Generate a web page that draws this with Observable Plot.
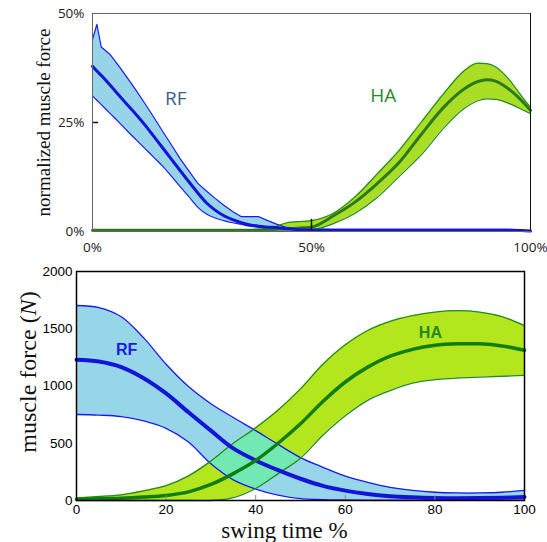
<!DOCTYPE html>
<html><head><meta charset="utf-8">
<script src="https://cdn.jsdelivr.net/npm/d3@7"></script>
<script src="https://cdn.jsdelivr.net/npm/@observablehq/plot@0.6"></script>
<style>
body{margin:0;background:#fff;}
#chart{width:547px;height:542px;}
#chart svg{display:block;}
</style></head><body><div id="chart"></div>
<script>
// ---------- Top panel: normalized muscle force (%) vs swing time (%) ----------
const topX = [0, 1, 2, 4, 6, 8, 10, 12, 14, 16, 18, 20, 22, 24, 26, 28, 30, 32, 34, 36, 38, 40, 42, 44, 46, 48, 50,
              55, 60, 65, 70, 75, 80, 85, 88, 90, 92, 95, 98, 100];
const rfTopUpper = [44, 47.5, 42.3, 40.6, 38.0, 35.2, 32.3, 29.3, 26.2, 23.0, 19.9, 16.7, 13.9, 11.1, 9.3, 7.6, 6.0, 4.6, 3.4, 3.4, 3.4, 2.5, 1.7, 1.0, 0.8, 0.7, 0.6,
                    0.5, 0.5, 0.5, 0.5, 0.5, 0.5, 0.5, 0.5, 0.5, 0.5, 0.5, 0.4, 0.1];
const rfTopMean  = [37.9, 36.8, 35.8, 33.6, 31.3, 29.0, 26.8, 24.4, 21.8, 19.2, 16.6, 14.0, 11.4, 8.9, 6.6, 4.9, 3.6, 2.7, 2.0, 1.5, 1.2, 1.0, 0.9, 0.7, 0.5, 0.4, 0.3,
                    0.3, 0.3, 0.3, 0.3, 0.3, 0.3, 0.3, 0.3, 0.3, 0.3, 0.3, 0.25, 0.1];
const rfTopLower = [31.1, 30.1, 29.1, 27.1, 25.1, 23.0, 21.0, 19.0, 17.0, 15.0, 12.7, 10.3, 8.0, 5.6, 4.0, 3.1, 2.5, 2.0, 1.6, 1.2, 1.0, 0.8, 0.6, 0.5, 0.4, 0.3, 0.2,
                    0.1, 0.1, 0.1, 0.1, 0.1, 0.1, 0.1, 0.1, 0.1, 0.1, 0.1, 0.1, 0];
const haTopUpper = [0.4, 0.4, 0.4, 0.4, 0.4, 0.4, 0.4, 0.4, 0.4, 0.4, 0.4, 0.4, 0.4, 0.4, 0.4, 0.4, 0.4, 0.4, 0.4, 0.4, 0.5, 0.7, 1.2, 1.9, 2.2, 2.3, 2.5,
                    4.2, 8.0, 13.2, 18.6, 25.0, 31.4, 37.0, 38.6, 38.5, 37.8, 35.0, 31.0, 28.5];
const haTopMean  = [0.3, 0.3, 0.3, 0.3, 0.3, 0.3, 0.3, 0.3, 0.3, 0.3, 0.3, 0.3, 0.3, 0.3, 0.3, 0.3, 0.3, 0.3, 0.3, 0.3, 0.35, 0.4, 0.5, 0.6, 0.7, 0.85, 1.0,
                    3.6, 6.8, 11.0, 15.8, 22.2, 28.3, 32.8, 34.4, 34.8, 34.5, 32.7, 30.0, 27.8];
const haTopLower = [0.1, 0.1, 0.1, 0.1, 0.1, 0.1, 0.1, 0.1, 0.1, 0.1, 0.1, 0.1, 0.1, 0.1, 0.1, 0.1, 0.1, 0.1, 0.1, 0.1, 0.1, 0.1, 0.1, 0.1, 0.1, 0.1, 0.3,
                    1.8, 4.2, 7.8, 12.6, 17.5, 23.5, 28.3, 30.0, 30.4, 30.3, 29.4, 28.0, 27.0];
const topXTicks = [0, 50, 100];
const topYTicks = [0, 25, 50];

// ---------- Bottom panel: muscle force (N) vs swing time % ----------
const botX   = [0, 5, 10, 15, 20, 25, 30, 35, 40, 45, 50, 55, 60, 65, 70, 75, 80, 85, 90, 95, 100];
const rfUp   = [1703, 1685, 1605, 1420, 1190, 995, 845, 725, 610, 490, 375, 290, 212, 158, 115, 88, 72, 66, 66, 72, 88];
const rfMean = [1229, 1214, 1165, 1068, 935, 770, 610, 455, 350, 265, 190, 128, 86, 57, 38, 28, 22, 20, 21, 24, 30];
const rfLo   = [751, 746, 733, 695, 630, 510, 320, 180, 100, 47, 16, 8, 5, 4, 4, 4, 4, 4, 4, 4, 4];
const haUp   = [23, 35, 50, 85, 130, 215, 345, 500, 635, 790, 975, 1190, 1360, 1485, 1565, 1615, 1645, 1658, 1645, 1605, 1528];
const haMean = [12, 15, 20, 30, 44, 75, 140, 235, 350, 500, 670, 865, 1035, 1165, 1260, 1320, 1355, 1368, 1368, 1350, 1312];
const haLo   = [0, 0, 0, 0, 0, 0, 0, 25, 105, 235, 370, 570, 740, 875, 960, 1025, 1055, 1070, 1078, 1085, 1092];
const botXTicks = [0, 20, 40, 60, 80, 100];
const botYTicks = [0, 500, 1000, 1500, 2000];

const topData = topX.map((x, i) => ({x, rfU: rfTopUpper[i], rfM: rfTopMean[i], rfL: rfTopLower[i],
                                      haU: haTopUpper[i], haM: haTopMean[i], haL: haTopLower[i]}));
const botData = botX.map((x, i) => ({x, rfU: rfUp[i], rfM: rfMean[i], rfL: rfLo[i],
                                      haU: haUp[i], haM: haMean[i], haL: haLo[i]}));

const curve = "monotone-x";
const smooth = "catmull-rom";
const blueEdge = "#1a1af0", blueMean = "#1414d8";
const greenEdge = "#228b22", greenMean = "#2a7a1c";

const topPlot = Plot.plot({
  width: 547, height: 258, marginLeft: 92, marginRight: 17, marginTop: 13, marginBottom: 27,
  x: {domain: [0, 100]}, y: {domain: [0, 50]},
  style: {fontFamily: "'Open Sans', sans-serif", fontSize: "13.5px", background: "white", overflow: "visible"},
  marks: [
    Plot.areaY(topData, {x: "x", y1: "rfL", y2: "rfU", fill: "#97d4e8", curve: "linear"}),
    Plot.areaY(topData, {x: "x", y1: "haL", y2: "haU", fill: "#a9de25", curve}),
    Plot.line(topData, {x: "x", y: "rfU", stroke: blueEdge, strokeWidth: 1.2, curve: "linear"}),
    Plot.line(topData, {x: "x", y: "rfL", stroke: blueEdge, strokeWidth: 1.2, curve}),
    Plot.line(topData, {x: "x", y: "haU", stroke: greenEdge, strokeWidth: 1.2, curve}),
    Plot.line(topData, {x: "x", y: "haL", stroke: greenEdge, strokeWidth: 1.2, curve}),
    Plot.line(topData, {x: "x", y: "haM", stroke: greenMean, strokeWidth: 3, curve}),
    Plot.line(topData, {x: "x", y: "rfM", stroke: blueMean, strokeWidth: 3, curve}),
    Plot.ruleX([50], {y1: 0.2, y2: 2.8, stroke: "#111", strokeWidth: 1.5}),
    Plot.ruleY([25], {x1: 0, x2: 1.4, stroke: "#111", strokeWidth: 1.5}),
    Plot.frame({stroke: "#666"}),
    Plot.ruleX([100], {stroke: "#111"}),
    Plot.axisX({ticks: topXTicks, tickFormat: d => d + "%", tickSize: 0, tickPadding: 11, label: null, fill: "#222"}),
    Plot.axisY({ticks: topYTicks, tickFormat: d => d + "%", tickSize: 0, tickPadding: 8, label: null, fill: "#222"}),
    Plot.text(["normalized muscle force"], {frameAnchor: "left", text: d => d, rotate: -90, dx: -49, textAnchor: "middle",
      fontFamily: "'Liberation Serif', 'Times New Roman', serif", fontSize: 19, fill: "#111"}),
    Plot.text([{x: 19, y: 30.5, t: "RF"}], {x: "x", y: "y", text: "t", fontSize: 19, fill: "#3a5d8f"}),
    Plot.text([{x: 66.4, y: 31.2, t: "HA"}], {x: "x", y: "y", text: "t", fontSize: 19, fill: "#2a8a2a"})
  ]
});

const botPlot = Plot.plot({
  width: 547, height: 284, marginLeft: 76, marginRight: 23, marginTop: 13, marginBottom: 42,
  x: {domain: [0, 100]}, y: {domain: [0, 2000]},
  style: {fontFamily: "'Liberation Sans', Arial, sans-serif", fontSize: "13.5px", background: "white", overflow: "visible"},
  marks: [
    Plot.areaY(botData, {x: "x", y1: "rfL", y2: "rfU", fill: "#97d6e9", curve: smooth}),
    Plot.areaY(botData, {x: "x", y1: "haL", y2: "haU", fill: "#b4e61e", curve: smooth}),
    Plot.areaY(botData, {x: "x", y1: "rfL", y2: "rfU", fill: "#72e8b2", curve: smooth}),
    Plot.line(botData, {x: "x", y: "rfU", stroke: blueEdge, strokeWidth: 1.3, curve: smooth}),
    Plot.line(botData, {x: "x", y: "rfL", stroke: blueEdge, strokeWidth: 1.3, curve: smooth}),
    Plot.line(botData, {x: "x", y: "haU", stroke: greenEdge, strokeWidth: 1.3, curve: smooth}),
    Plot.line(botData, {x: "x", y: "haL", stroke: greenEdge, strokeWidth: 1.3, curve: smooth}),
    Plot.line(botData, {x: "x", y: "rfM", stroke: blueMean, strokeWidth: 4, curve: smooth}),
    Plot.line(botData, {x: "x", y: "haM", stroke: "#0f7d0f", strokeWidth: 3.5, curve: smooth}),
    Plot.ruleX(botXTicks.slice(1, -1), {y1: 0, y2: 45, stroke: "#888"}),
    Plot.frame({stroke: "#000", strokeWidth: 1.5}),
    Plot.axisX({ticks: botXTicks, tickFormat: d => String(d), tickSize: 0, tickPadding: 4, label: null, fill: "#000"}),
    Plot.axisY({ticks: botYTicks, tickFormat: d => String(d), tickSize: 0, tickPadding: 4, label: null, fill: "#000"}),
    Plot.text(["swing time %"], {frameAnchor: "bottom", text: d => d, dy: 37, dx: -16,
      fontFamily: "'Liberation Serif', 'Times New Roman', serif", fontSize: 23, fill: "#111"}),
    Plot.text([{x: 11.2, y: 1319, t: "RF"}], {x: "x", y: "y", text: "t", fontSize: 16, fontWeight: "bold", fill: "#1a1ae6"}),
    Plot.text([{x: 79, y: 1467, t: "HA"}], {x: "x", y: "y", text: "t", fontSize: 16, fontWeight: "bold", fill: "#1f8a1f"})
  ]
});

// Overlap of the two bands: mint fill, clipped to the HA band
(function () {
  const svg = d3.select(botPlot);
  const areas = svg.selectAll('g[aria-label="area"]').nodes();
  if (areas.length >= 3) {
    const d = d3.select(areas[1]).select("path").attr("d");
    const defs = svg.insert("defs", ":first-child");
    defs.append("clipPath").attr("id", "haClip").append("path").attr("d", d);
    d3.select(areas[2]).selectAll("path").attr("clip-path", "url(#haClip)");
  }
  // y-axis title with italic N
  const t = svg.append("text")
    .attr("transform", "translate(36,114) rotate(-90)")
    .attr("text-anchor", "middle")
    .attr("font-family", "'Liberation Serif', 'Times New Roman', serif")
    .attr("font-size", 24).attr("fill", "#111");
  t.append("tspan").text("muscle force (");
  t.append("tspan").attr("font-style", "italic").text("N");
  t.append("tspan").text(")");
})();

const root = document.getElementById("chart");
root.appendChild(topPlot);
root.appendChild(botPlot);
</script></body></html>
